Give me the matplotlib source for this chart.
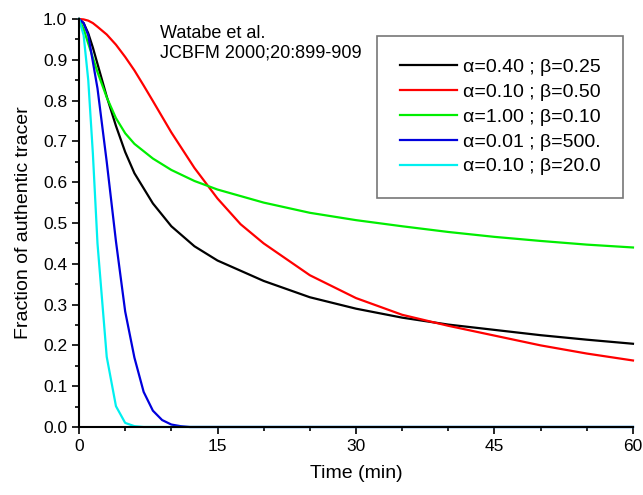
import matplotlib.pyplot as plt
from matplotlib.ticker import MultipleLocator

plt.rcParams['font.family'] = ['Liberation Sans', 'DejaVu Sans']

# black: alpha=0.40, beta=0.25
t_black = [0, 0.5, 1, 1.5, 2, 3, 4, 5, 6, 8, 10, 12.5, 15, 20, 25, 30, 35, 40, 45, 50, 55, 60]
y_black = [1.0, 0.99, 0.965, 0.93, 0.89, 0.81, 0.738, 0.674, 0.622, 0.548, 0.492, 0.443, 0.408, 0.358, 0.318, 0.29, 0.268, 0.251, 0.238, 0.225, 0.214, 0.204]

# red: alpha=0.10, beta=0.50
t_red = [0, 0.5, 1, 1.5, 2, 3, 4, 5, 6, 7, 8, 10, 12.5, 15, 17.5, 20, 25, 30, 35, 40, 45, 50, 55, 60]
y_red = [1.0, 0.999, 0.996, 0.99, 0.981, 0.962, 0.937, 0.907, 0.874, 0.837, 0.799, 0.722, 0.635, 0.56, 0.497, 0.45, 0.372, 0.316, 0.275, 0.248, 0.224, 0.2, 0.18, 0.163]

# green: alpha=1.00, beta=0.10
t_green = [0, 0.5, 1, 1.5, 2, 3, 4, 5, 6, 8, 10, 12.5, 15, 20, 25, 30, 35, 40, 45, 50, 55, 60]
y_green = [1.0, 0.975, 0.94, 0.905, 0.87, 0.808, 0.757, 0.72, 0.694, 0.658, 0.63, 0.603, 0.582, 0.55, 0.525, 0.507, 0.492, 0.478, 0.466, 0.456, 0.447, 0.44]

# blue: alpha=0.01, beta=500.
t_blue = [0, 0.5, 1, 2, 3, 4, 5, 6, 7, 8, 9, 10, 11, 12, 60]
y_blue = [1.0, 0.99, 0.96, 0.83, 0.65, 0.455, 0.283, 0.17, 0.086, 0.04, 0.017, 0.006, 0.002, 0.0, 0.0]

# cyan: alpha=0.10, beta=20.0
t_cyan = [0, 0.5, 1, 1.5, 2, 3, 4, 5, 6, 7, 60]
y_cyan = [1.0, 0.96, 0.85, 0.67, 0.45, 0.172, 0.051, 0.01, 0.002, 0.0, 0.0]

labels = ['\u03b1=0.40 ; \u03b2=0.25', '\u03b1=0.10 ; \u03b2=0.50', '\u03b1=1.00 ; \u03b2=0.10',
          '\u03b1=0.01 ; \u03b2=500.', '\u03b1=0.10 ; \u03b2=20.0']
colors = ['#000000', '#ff0000', '#00ee00', '#0000dd', '#00f0f0']

fig = plt.figure(figsize=(6.43, 4.95), dpi=100)
ax = fig.add_axes([0.1229, 0.1374, 0.8615, 0.8242])

series = [(t_black, y_black), (t_red, y_red), (t_green, y_green), (t_blue, y_blue), (t_cyan, y_cyan)]
for (t, y), lab, c in zip(series, labels, colors):
    ax.plot(t, y, color=c, lw=1.6, label=lab, clip_on=False)

ax.set_xlim(0, 60)
ax.set_ylim(0, 1.0)
ax.xaxis.set_major_locator(MultipleLocator(15))
ax.xaxis.set_minor_locator(MultipleLocator(5))
ax.yaxis.set_major_locator(MultipleLocator(0.1))
ax.yaxis.set_minor_locator(MultipleLocator(0.05))
ax.yaxis.set_major_formatter(plt.FormatStrFormatter('%.1f'))
ax.tick_params(which='major', direction='out', length=5, width=1.2, labelsize=12.5)
ax.tick_params(which='minor', direction='out', length=3, width=1.2)
ax.spines['top'].set_visible(False)
ax.spines['right'].set_visible(False)
ax.spines['left'].set_linewidth(1.5)
ax.spines['bottom'].set_linewidth(1.5)

ax.set_xlabel('Time (min)', fontsize=14, labelpad=8)
ax.set_ylabel('Fraction of authentic tracer', fontsize=14, labelpad=8)

ax.text(0.146, 0.985, 'Watabe et al.\nJCBFM 2000;20:899-909', transform=ax.transAxes,
        fontsize=13, va='top', ha='left', linespacing=1.15)

leg = ax.legend(loc='upper right', bbox_to_anchor=(0.982, 0.958), fontsize=14,
                frameon=True, fancybox=False, handlelength=2.95, handletextpad=0.3,
                borderpad=1.15, labelspacing=0.37, borderaxespad=0)
leg.get_frame().set_edgecolor('#555555')
leg.get_frame().set_linewidth(1.2)

fig.savefig('out.png', dpi=100)
